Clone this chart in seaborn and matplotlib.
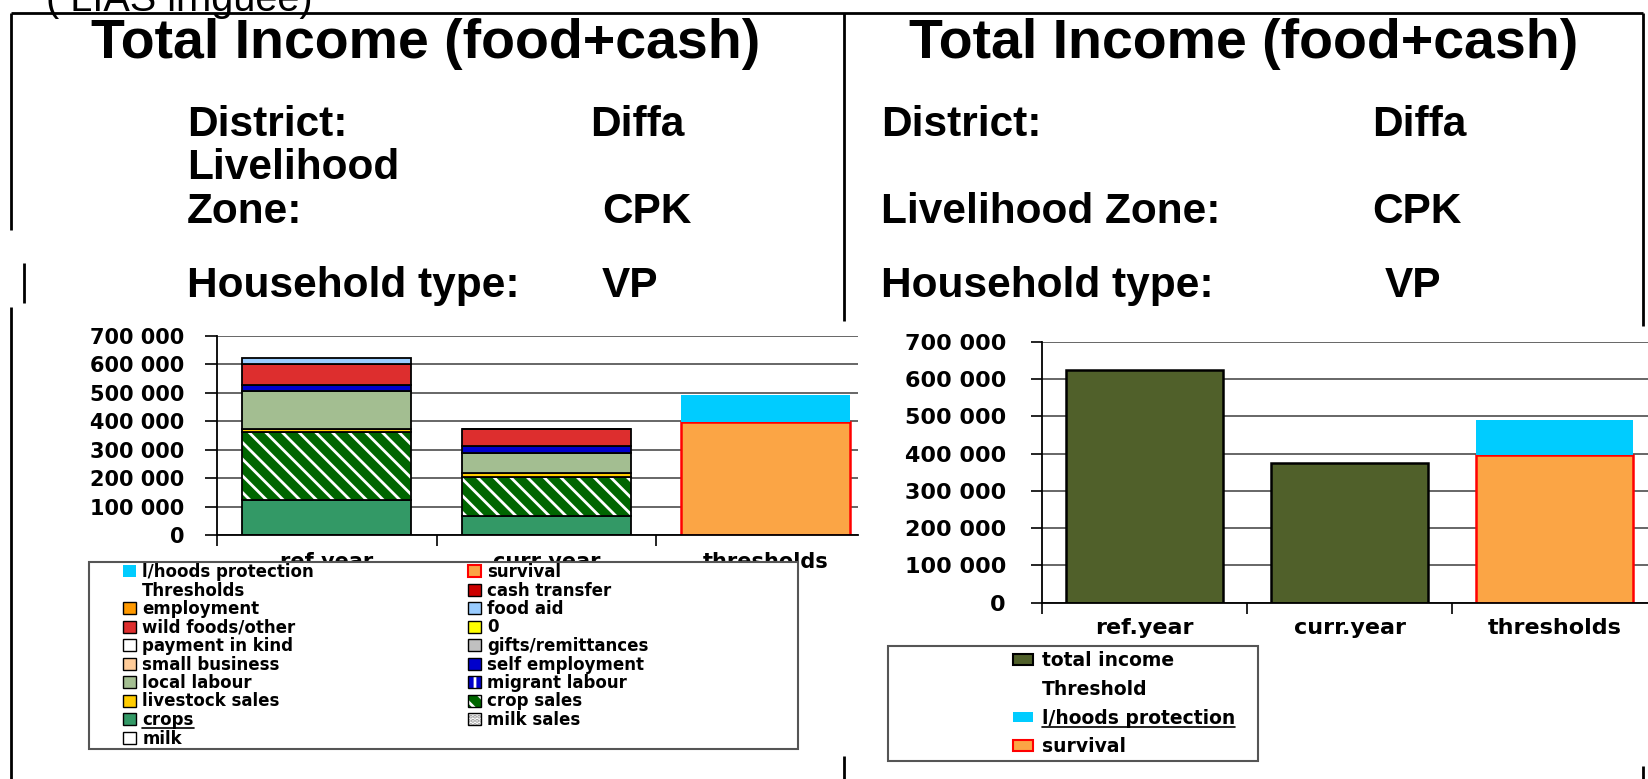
"""Total income (food+cash) slide: income sources by year vs. thresholds (Diffa, CPK, VP)."""

import matplotlib
matplotlib.use("Agg")
import numpy as np
import pandas as pd
import matplotlib.pyplot as plt
import seaborn as sns
from matplotlib.patches import Patch, Rectangle
from matplotlib.lines import Line2D

# ---- data ----
stack_categories = ["ref year", "curr year", "thresholds"]
total_categories = ["ref.year", "curr.year", "thresholds"]

crops = [122000, 67000]
crop_sales = [241000, 137000]
livestock_sales = [9000, 13000]
local_labour = [135000, 71000]
self_employment = [20000, 24000]
wild_foods = [74000, 61000]
food_aid = [22000, 0]

survival = 396000
livelihoods_protection = 95000

total_income = [624000, 375000]

y_ticks = [0, 100000, 200000, 300000, 400000, 500000, 600000, 700000]

# colours
C_CROPS = "#339966"
C_CROP_SALES = "#006600"
C_LIVESTOCK = "#ffcc00"
C_LOCAL = "#a3be91"
C_SELF = "#0000cc"
C_WILD = "#dd2e2e"
C_FOODAID = "#99ccff"
C_SURVIVAL = "#fba545"
C_PROTECT = "#00ccff"
C_TOTAL = "#50602a"

W, H = 1648, 779


def fx(x):
    return x / W


def fy(y):
    return 1 - y / H


sns.set_theme(style="white")
plt.rcParams["font.family"] = ["DejaVu Sans"]
plt.rcParams["font.weight"] = "bold"
plt.rcParams["text.color"] = "black"
plt.rcParams["xtick.color"] = "black"
plt.rcParams["ytick.color"] = "black"
plt.rcParams["hatch.linewidth"] = 2.0

fig = plt.figure(figsize=(W / 100, H / 100), dpi=100)
fig.patch.set_facecolor("white")

# ---- slide frame lines ----
frame_segments = [
    (11, 12.5, 1643, 12.5),
    (11, 12.5, 11, 230), (24, 263, 24, 303), (11, 307, 11, 779),
    (844, 12.5, 844, 321), (844, 756, 844, 779),
    (1643, 12.5, 1643, 326), (1643, 766, 1643, 779),
]
for x0, y0, x1, y1 in frame_segments:
    fig.add_artist(Line2D([fx(x0), fx(x1)], [fy(y0), fy(y1)], transform=fig.transFigure,
                          color="black", lw=2.0, solid_capstyle="butt"))

# ---- header texts ----
head = dict(family=["Liberation Sans", "DejaVu Sans"], fontweight="bold", va="baseline",
            color="black")
fig.text(fx(46), fy(11), "( LIAS irriguée)", family=["Liberation Sans", "DejaVu Sans"],
         fontweight="normal", fontsize=28.5, va="baseline", color="black")
fig.text(fx(426), fy(58), "Total Income (food+cash)", fontsize=40, ha="center", **head)
fig.text(fx(1244), fy(58), "Total Income (food+cash)", fontsize=40, ha="center", **head)

left_rows = [(136, "District:", "Diffa", 590), (179, "Livelihood", "", 0),
             (223, "Zone:", "CPK", 602), (297, "Household type:", "VP", 602)]
right_rows = [(136, "District:", "Diffa", 1372), (223, "Livelihood Zone:", "CPK", 1372),
              (297, "Household type:", "VP", 1385)]
for y, lab, val, xv in left_rows:
    fig.text(fx(187), fy(y), lab, fontsize=30.5, **head)
    if val:
        fig.text(fx(xv), fy(y), val, fontsize=30.5, **head)
for y, lab, val, xv in right_rows:
    fig.text(fx(881), fy(y), lab, fontsize=30.5, **head)
    fig.text(fx(xv), fy(y), val, fontsize=30.5, **head)

tick_fmt = [f"{v:,}".replace(",", " ") for v in y_ticks]
bar_w = 0.77


def style_axes(ax, labels, xmax, ysize, xsize, ypad, xpad, ylen):
    ax.set_ylim(0, 700000)
    ax.set_xlim(-0.5, xmax)
    ax.set_yticks(y_ticks)
    ax.set_yticklabels(tick_fmt)
    ax.yaxis.grid(True, color="#4d4d4d", lw=1.2)
    ax.xaxis.grid(False)
    ax.set_axisbelow(True)
    for side in ["top", "right"]:
        ax.spines[side].set_visible(False)
    for side in ["left", "bottom"]:
        ax.spines[side].set_color("black")
        ax.spines[side].set_linewidth(1.3)
    ax.set_xticks([-0.5, 0.5, 1.5])
    ax.set_xticklabels([])
    ax.set_xticks([0, 1, 2], minor=True)
    ax.set_xticklabels(labels, minor=True)
    ax.tick_params(axis="x", which="major", bottom=True, length=8, width=1.2,
                   color="black", direction="out")
    ax.tick_params(axis="x", which="minor", bottom=True, length=0, pad=xpad,
                   labelsize=xsize)
    ax.tick_params(axis="y", left=True, length=ylen, width=1.2, color="black",
                   direction="out", pad=ypad, labelsize=ysize)
    ax.set_xlabel("")
    ax.set_ylabel("")
    for t in ax.get_yticklabels() + ax.get_xticklabels(minor=True):
        t.set_fontweight("bold")
        t.set_color("black")
    ax.set_facecolor("white")


# ---- left chart: stacked income sources ----
ax1 = fig.add_axes([fx(217), fy(535), fx(858) - fx(217), fy(336) - fy(535)])
xpos = np.arange(2)
layers = [
    (crops, C_CROPS, None),
    (crop_sales, C_CROP_SALES, "\\\\"),
    (livestock_sales, C_LIVESTOCK, None),
    (local_labour, C_LOCAL, None),
    (self_employment, C_SELF, None),
    (wild_foods, C_WILD, None),
    (food_aid, C_FOODAID, None),
]
bottom = np.zeros(2)
for vals, col, hatch in layers:
    vals = np.array(vals, dtype=float)
    if hatch:
        ax1.bar(xpos, vals, bar_w, bottom=bottom, color=col, edgecolor="white",
                hatch=hatch, linewidth=0)
        ax1.bar(xpos, vals, bar_w, bottom=bottom, fill=False, edgecolor="black", linewidth=1.3)
    else:
        ax1.bar(xpos, vals, bar_w, bottom=bottom, color=col, edgecolor="black", linewidth=1.3)
    bottom = bottom + vals
ax1.bar(2, survival, bar_w, color=C_SURVIVAL, edgecolor="red", linewidth=1.8)
ax1.bar(2, livelihoods_protection, bar_w, bottom=survival, color=C_PROTECT, linewidth=0)
style_axes(ax1, stack_categories, 2.42, 15, 15, 15, 12, 8.5)

# ---- right chart: total income vs thresholds ----
ax2 = fig.add_axes([fx(1042), fy(602.7), 1 - fx(1042), fy(342) - fy(602.7)])
df_total = pd.DataFrame({"category": total_categories[:2], "income": total_income})
sns.barplot(data=df_total, x="category", y="income", order=total_categories,
            color=C_TOTAL, saturation=1, width=bar_w, edgecolor="black",
            linewidth=1.8, errorbar=None, ax=ax2)
ax2.bar(2, survival, bar_w, color=C_SURVIVAL, edgecolor="red", linewidth=1.8)
ax2.bar(2, livelihoods_protection, bar_w, bottom=survival, color=C_PROTECT, linewidth=0)
style_axes(ax2, total_categories, 2.456, 16, 16, 18, 11, 8)

# ---- left legend (two columns, own frame) ----
fig.add_artist(Rectangle((fx(89), fy(749)), fx(798) - fx(89), fy(562) - fy(749),
                         transform=fig.transFigure, facecolor="white",
                         edgecolor="#555555", lw=1.5, zorder=4))


def box(fc, ec="black", lw=1.0):
    return Patch(facecolor=fc, edgecolor=ec, linewidth=lw)


blank = Patch(facecolor="none", edgecolor="none")
col1 = [
    ("l/hoods protection", box(C_PROTECT, "none")),
    ("Thresholds", blank),
    ("employment", box("#ff9900")),
    ("wild foods/other", box(C_WILD)),
    ("payment in kind", box("white")),
    ("small business", box("#ffcc99")),
    ("local labour", box(C_LOCAL)),
    ("livestock sales", box(C_LIVESTOCK)),
    ("crops", box(C_CROPS)),
    ("milk", box("white")),
]
col2 = [
    ("survival", box(C_SURVIVAL, "red", 1.5)),
    ("cash transfer", box("#cc0000")),
    ("food aid", box(C_FOODAID)),
    ("0", box("#ffff00")),
    ("gifts/remittances", box("#c0c0c0")),
    ("self employment", box(C_SELF)),
    ("migrant labour", (Patch(facecolor=C_SELF, edgecolor="white", hatch="+", linewidth=0),
                        box("none"))),
    ("crop sales", (Patch(facecolor=C_CROP_SALES, edgecolor="white", hatch="\\\\", linewidth=0),
                    box("none"))),
    ("milk sales", (Patch(facecolor="white", edgecolor="#999999", hatch="....", linewidth=0),
                    box("none"))),
]
leg_kw = dict(loc="upper left", frameon=False, borderpad=0, borderaxespad=0,
              handlelength=0.75, handleheight=0.75, handletextpad=0.4,
              labelspacing=0.03, prop={"weight": "bold", "size": 12})
legends = []
for entries, x in [(col1, 123), (col2, 468)]:
    leg = fig.legend([h for _, h in entries], [l for l, _ in entries],
                     bbox_to_anchor=(fx(x), fy(563)), **leg_kw)
    leg.set_zorder(5)
    legends.append(leg)

# ---- right legend ----
fig.add_artist(Rectangle((fx(888), fy(761)), fx(1258) - fx(888), fy(646) - fy(761),
                         transform=fig.transFigure, facecolor="white",
                         edgecolor="#555555", lw=1.5, zorder=4))
right_entries = [
    ("total income", box(C_TOTAL, "black", 1.5)),
    ("Threshold", blank),
    ("l/hoods protection", box(C_PROTECT, "none")),
    ("survival", box(C_SURVIVAL, "red", 1.5)),
]
leg_r = fig.legend([h for _, h in right_entries], [l for l, _ in right_entries],
                   bbox_to_anchor=(fx(1013), fy(651)), loc="upper left", frameon=False,
                   borderpad=0, borderaxespad=0, handlelength=1.07, handleheight=0.48,
                   handletextpad=0.48, labelspacing=0.52,
                   prop={"weight": "bold", "size": 13.5})
leg_r.set_zorder(5)

# underlined legend entries, as on the slide
fig.canvas.draw()
renderer = fig.canvas.get_renderer()
for leg, label in [(legends[0], "crops"), (leg_r, "l/hoods protection")]:
    for t in leg.get_texts():
        if t.get_text() == label:
            bb = t.get_window_extent(renderer)
            ln = Line2D([bb.x0 / W, bb.x1 / W], [(bb.y0 + 1) / H] * 2,
                        transform=fig.transFigure, color="black", lw=1.2, zorder=6)
            fig.add_artist(ln)

fig.savefig("out.png", dpi=100)
print("Saved out.png")
